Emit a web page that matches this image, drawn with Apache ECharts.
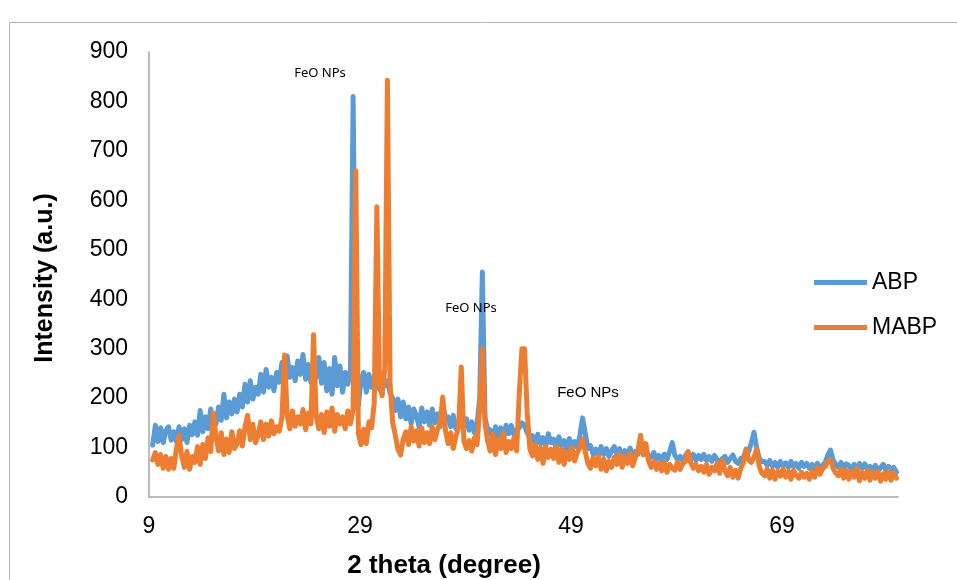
<!DOCTYPE html>
<html><head><meta charset="utf-8">
<script src="https://cdn.jsdelivr.net/npm/echarts@6/dist/echarts.min.js"></script>
<style>html,body{margin:0;padding:0;background:#fff}#c{width:957px;height:580px}</style>
</head><body><div id="c"></div>
<script>
// 2-theta scan positions (degrees)
const theta = [
 9.35,9.6,9.85,10.1,10.35,10.6,10.85,11.1,
 11.35,11.6,11.85,12.1,12.35,12.6,12.85,13.1,
 13.35,13.6,13.85,14.1,14.35,14.6,14.85,15.1,
 15.35,15.6,15.85,16.1,16.35,16.6,16.85,17.1,
 17.35,17.6,17.85,18.1,18.35,18.6,18.85,19.1,
 19.35,19.6,19.85,20.1,20.35,20.6,20.85,21.1,
 21.35,21.6,21.85,22.1,22.35,22.6,22.85,23.1,
 23.35,23.6,23.85,24.1,24.35,24.6,24.85,25.1,
 25.35,25.6,25.85,26.1,26.35,26.6,26.85,27.1,
 27.35,27.6,27.85,28.1,28.35,28.6,28.85,29.1,
 29.35,29.6,29.85,30.1,30.35,30.6,30.85,31.1,
 31.35,31.6,31.85,32.1,32.35,32.6,32.85,33.1,
 33.35,33.6,33.85,34.1,34.35,34.6,34.85,35.1,
 35.35,35.6,35.85,36.1,36.35,36.6,36.85,37.1,
 37.35,37.6,37.85,38.1,38.35,38.6,38.85,39.1,
 39.35,39.6,39.85,40.1,40.35,40.6,40.85,41.1,
 41.35,41.6,41.85,42.1,42.35,42.6,42.85,43.1,
 43.35,43.6,43.85,44.1,44.35,44.6,44.85,45.1,
 45.35,45.6,45.85,46.1,46.35,46.6,46.85,47.1,
 47.35,47.6,47.85,48.1,48.35,48.6,48.85,49.1,
 49.35,49.6,49.85,50.1,50.35,50.6,50.85,51.1,
 51.35,51.6,51.85,52.1,52.35,52.6,52.85,53.1,
 53.35,53.6,53.85,54.1,54.35,54.6,54.85,55.1,
 55.35,55.6,55.85,56.1,56.35,56.6,56.85,57.1,
 57.35,57.6,57.85,58.1,58.35,58.6,58.85,59.1,
 59.35,59.6,59.85,60.1,60.35,60.6,60.85,61.1,
 61.35,61.6,61.85,62.1,62.35,62.6,62.85,63.1,
 63.35,63.6,63.85,64.1,64.35,64.6,64.85,65.1,
 65.35,65.6,65.85,66.1,66.35,66.6,66.85,67.1,
 67.35,67.6,67.85,68.1,68.35,68.6,68.85,69.1,
 69.35,69.6,69.85,70.1,70.35,70.6,70.85,71.1,
 71.35,71.6,71.85,72.1,72.35,72.6,72.85,73.1,
 73.35,73.6,73.85,74.1,74.35,74.6,74.85,75.1,
 75.35,75.6,75.85,76.1,76.35,76.6,76.85,77.1,
 77.35,77.6,77.85,78.1,78.35,78.6,78.85,79.1,
 79.35,79.6,79.85
];
// ABP intensity (a.u.)
const abp = [
 105,145,112,140,110,135,142,115,
 132,112,142,116,138,110,145,126,
 152,125,175,132,162,138,178,142,
 148,182,155,208,160,192,168,198,
 172,208,182,228,192,235,198,222,
 208,248,212,258,222,242,215,252,
 232,272,238,285,242,262,235,275,
 248,288,238,268,232,272,242,282,
 230,272,215,260,208,282,225,265,
 212,252,228,258,810,260,185,238,
 252,212,248,222,242,228,218,238,
 225,235,210,200,175,198,162,192,
 158,182,148,178,165,142,180,152,
 172,145,178,150,168,142,185,160,
 162,142,165,138,152,165,145,158,
 135,152,130,148,200,455,160,138,
 136,116,142,122,140,118,145,128,
 145,126,136,140,150,145,130,120,
 124,106,127,108,120,102,128,110,
 117,98,122,104,114,96,118,102,
 112,100,125,160,130,98,104,86,
 97,83,102,86,98,82,94,102,
 86,98,80,94,84,99,82,92,
 86,100,90,95,82,80,90,76,
 84,74,87,76,92,110,84,76,
 82,72,84,90,76,86,74,84,
 76,86,74,82,72,84,76,70,
 78,82,70,78,85,72,68,78,
 80,95,92,110,131,100,78,72,
 72,64,74,62,70,60,72,63,
 69,60,72,61,68,58,70,62,
 68,58,66,56,68,59,64,70,
 85,95,75,66,60,70,58,67,
 64,56,66,55,68,58,67,56,
 62,53,64,52,60,66,54,62,
 53,60,50
];
// MABP intensity (a.u.)
const mabp = [
 75,90,66,86,58,82,56,78,
 58,97,125,83,60,92,56,82,
 70,102,66,106,78,120,92,170,
 122,93,130,86,117,90,132,98,
 108,134,103,142,165,116,147,110,
 126,152,116,147,123,154,128,142,
 133,160,287,165,138,174,143,162,
 148,177,136,170,148,328,162,138,
 167,130,172,143,180,133,167,148,
 162,138,174,148,178,660,128,106,
 137,108,152,140,190,587,230,205,
 260,843,230,150,125,96,85,117,
 132,106,142,113,134,103,140,110,
 130,108,142,116,137,150,202,135,
 108,130,98,124,140,263,113,98,
 114,93,120,106,180,300,150,113,
 93,127,86,117,98,130,90,112,
 98,120,93,210,300,300,170,98,
 83,107,76,100,68,102,80,97,
 78,102,70,97,66,92,76,100,
 73,90,100,118,92,68,58,80,
 63,82,56,77,53,72,60,80,
 66,86,60,82,68,88,63,80,
 95,125,85,108,73,60,72,56,
 68,53,70,50,66,58,54,70,
 56,67,72,92,70,58,66,53,
 62,50,66,46,60,53,68,48,
 75,53,43,60,40,54,38,58,
 70,97,75,70,80,97,62,48,
 43,57,38,54,36,52,42,57,
 40,52,36,54,43,38,50,40,
 48,36,52,40,60,46,57,62,
 72,75,58,48,43,57,38,54,
 36,52,40,58,33,50,38,54,
 34,50,38,52,32,47,36,52,
 34,48,38
];
const seriesNames = ['ABP', 'MABP'];
const seriesColors = ['#5B9BD5', '#ED7D31'];
const xTickValues = [9, 29, 49, 69];
const xRange = [9, 80];
const yRange = [0, 900];
const yStep = 100;
const annotations = [
  {text: 'FeO NPs', x: 320, y: 73, font: '13px "Noto Sans"'},
  {text: 'FeO NPs', x: 471, y: 308, font: '13px "Noto Sans"'},
  {text: 'FeO NPs', x: 588, y: 393, font: '15px "Liberation Sans"'}
];

const chart = echarts.init(document.getElementById('c'), null, {renderer: 'canvas'});
const allSeries = [abp, mabp].map((vals, k) => ({
  name: seriesNames[k],
  type: 'line',
  symbol: 'none',
  showSymbol: false,
  data: theta.map((t, i) => [t, vals[i]]),
  lineStyle: {width: 5, color: seriesColors[k], cap: 'round', join: 'round'},
  itemStyle: {color: seriesColors[k]},
  z: 2 + k
}));

chart.setOption({
  animation: false,
  backgroundColor: '#ffffff',
  grid: {left: 149, right: 59, top: 52, bottom: 83},
  xAxis: {
    type: 'value', min: xRange[0], max: xRange[1],
    axisLine: {show: true, lineStyle: {color: '#a6a6a6', width: 1.5}},
    axisTick: {show: false},
    splitLine: {show: false},
    axisLabel: {customValues: xTickValues, fontFamily: 'Liberation Sans', fontSize: 23, color: '#000', margin: 18}
  },
  yAxis: {
    type: 'value', min: yRange[0], max: yRange[1], interval: yStep,
    axisLine: {show: true, lineStyle: {color: '#a6a6a6', width: 1.5}},
    axisTick: {show: false},
    splitLine: {show: false},
    axisLabel: {fontFamily: 'Liberation Sans', fontSize: 23, color: '#000', margin: 21}
  },
  legend: {
    orient: 'vertical', left: 809, top: 266,
    icon: 'rect',
    itemWidth: 53, itemHeight: 5, itemGap: 22,
    data: seriesNames,
    textStyle: {fontFamily: 'Liberation Sans', fontSize: 23, color: '#000', lineHeight: 23, padding: [0, 0, 0, 0]},
    selectedMode: false
  },
  series: allSeries,
  graphic: [
    {type: 'rect', z: -10, shape: {x: 9.5, y: 22.5, width: 1000, height: 700}, style: {fill: 'none', stroke: '#b4b4b4', lineWidth: 1}},
    {type: 'text', x: 45, y: 278, rotation: Math.PI / 2, style: {text: 'Intensity (a.u.)', font: 'bold 25px "Liberation Sans"', fill: '#000', align: 'center', verticalAlign: 'middle'}},
    {type: 'text', x: 444, y: 566, style: {text: '2 theta (degree)', font: 'bold 26px "Liberation Sans"', fill: '#000', align: 'center', verticalAlign: 'middle'}}
  ].concat(annotations.map(a => ({type: 'text', x: a.x, y: a.y, z: 10, style: {text: a.text, font: a.font, fill: '#000', align: 'center', verticalAlign: 'middle'}})))
});
</script>
</body></html>
